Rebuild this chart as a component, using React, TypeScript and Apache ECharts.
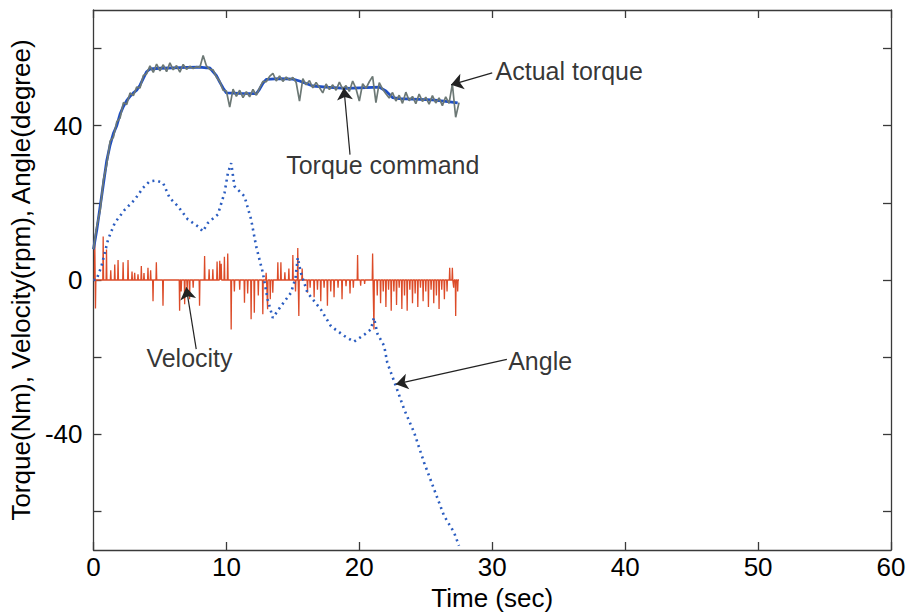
import React, { useEffect, useRef } from 'react';
import * as echarts from 'echarts';

// Torque command (Nm): [time s, value]
const torqueCommand: [number, number][] = [
  [0, 8], [0.25, 13], [0.5, 19], [0.75, 25], [1.0, 31], [1.25, 35], [1.5, 38], [1.75, 40],
  [2.0, 43], [2.25, 45], [2.5, 46.5], [2.75, 47.6], [3.0, 48.5], [3.25, 49.2], [3.5, 50.5],
  [3.75, 52.3], [4.0, 54], [4.25, 54.7], [5, 54.9], [6, 55], [7, 55.1], [8, 55.2], [8.5, 55],
  [8.75, 55], [9.0, 54], [9.25, 53], [9.5, 51.3], [9.75, 49.8], [10.0, 48.5], [11, 48.4],
  [12.25, 48.3], [12.5, 49.5], [12.75, 51], [13.0, 52], [14, 52.2], [15, 52.1], [15.5, 51.6],
  [16.5, 50.3], [17.5, 50], [19, 49.7], [21.5, 50], [22, 49], [22.5, 47.3], [23, 47],
  [25.5, 46.7], [26.5, 46.3], [27.4, 45.9]
];

// Actual torque (Nm), sampled every 0.25 s from t = 0
const actualTorqueStep = 0.25;
const actualTorque: number[] = [
  8, 14, 18, 26, 30, 36, 37, 41, 42, 46, 45.5, 48.5, 47.8, 50, 49.8, 53, 53.5, 55.5, 53.8, 56,
  54.2, 55.8, 54, 56.3, 54.5, 55.6, 53.9, 55.9, 54.6, 55.4, 54.8, 55.3, 55.1, 58.2, 55.5, 54.6,
  54.5, 52.6, 51.5, 49.2, 49, 44.8, 49.5, 47.6, 49.2, 47.3, 48.8, 47.5, 49.4, 47.9, 49.8, 51.5,
  51.4, 52.8, 53.6, 51.6, 52.9, 51.5, 52.6, 51.8, 52.5, 51.2, 46.4, 52.2, 50.6, 51.7, 49.8, 51.2,
  49.9, 48.5, 50.8, 49.4, 50.6, 49.2, 51.3, 49.5, 50.4, 48.9, 51.6, 49.6, 46.4, 50.9, 49.7, 51.4,
  52.8, 46, 51.2, 49.5, 48.3, 47.2, 48.6, 46.4, 47.9, 45.8, 48.7, 46.5, 47.6, 45.7, 48.2, 46.3,
  47.4, 45.6, 47.8, 45.9, 47.2, 45.2, 47.5, 45.8, 50.8, 42.2, 46
];

// Angle (degree): [time s, value]
const angle: [number, number][] = [
  [0, 0], [0.23, 0.1], [0.6, 3.6], [1.1, 10.5], [1.6, 14.8], [2.35, 18.2], [3.1, 20.8],
  [3.73, 23.9], [4.23, 25.6], [4.7, 25.8], [5.23, 25.2], [5.73, 21.3], [6.36, 19.1], [7.1, 15.7],
  [7.86, 13.9], [8.23, 12.6], [8.61, 14.8], [9.36, 17], [9.86, 22.6], [10.11, 27.7],
  [10.36, 30.3], [10.61, 24.3], [11.36, 21.7], [11.86, 15.7], [12.24, 8.7], [12.74, 1.9],
  [13.1, -5], [13.49, -9.8], [14.1, -6.8], [14.86, -3.3], [15.2, 0.5], [15.37, 5.8], [15.6, 1.9],
  [16.1, -3.3], [17.1, -7.6], [17.87, -12], [18.87, -14.5], [19.6, -16], [20.37, -14.2],
  [20.87, -12.8], [21.1, -9.8], [21.37, -14], [21.87, -17.1], [22.1, -21.4], [22.75, -27.5],
  [23.37, -33.5], [24.12, -39.5], [24.87, -47.3], [25.62, -54.2], [26.37, -61.1],
  [27.12, -65.4], [27.5, -68.9]
];

// Velocity (rpm): spikes [time s, peak value] on a zero baseline from 0 to 27.5 s
const velocityEnd = 27.5;
const velocitySpikes: [number, number][] = [
  [0.1, 9.6], [0.15, -7.4], [0.73, 11.3], [0.98, 7.9], [1.3, 2.5], [1.6, 4.0], [1.85, 5.2],
  [2.23, 4.6], [2.6, 5.2], [2.9, 2.2], [3.1, 1.9], [3.35, 1.5], [3.6, 3.6], [3.8, 1.8],
  [4.1, 3.2], [4.3, 2.5], [4.48, -5.5], [4.73, 4.6], [5.23, -6.7], [6.48, -8.0], [6.6, -3],
  [6.86, -6.3], [7.05, -2.5], [7.23, -5.0], [7.5, -2], [7.98, -6.7], [8.36, 6.2], [8.7, 2.8],
  [8.98, 2.8], [9.3, 4.8], [9.5, 5.0], [9.61, 4.2], [9.85, 6], [10.1, 6.9], [10.36, -12.8],
  [10.6, -3], [11.0, -2.5], [11.36, -5.9], [11.6, -3.5], [11.86, -10.2], [12.1, -8.5],
  [12.4, -4], [12.74, -8.9], [12.99, 1.9], [13.1, -7.6], [13.3, -5], [13.49, -3.3],
  [13.87, 4.6], [14.1, 4.6], [14.4, 2], [14.7, 3], [15.0, 6.5], [15.2, -3], [15.37, 8.3],
  [15.45, -9.3], [15.7, 3], [16.1, -3.3], [16.3, -2], [16.6, -4.5], [16.85, -2.5], [17.1, -5.5],
  [17.35, -2], [17.6, -6.7], [17.85, -3], [18.1, -4.5], [18.4, -2], [18.7, -5], [19.0, -1.6],
  [19.3, -3.5], [19.55, -2], [19.87, 6.5], [20.1, -1.5], [20.4, -1], [21.0, 6.9], [21.1, -12.8],
  [21.35, -4], [21.6, -6], [21.8, -3], [22.0, -7], [22.2, -2.5], [22.4, -8], [22.6, -3],
  [22.8, -6.5], [23.0, -2], [23.2, -7.5], [23.4, -4], [23.6, -8], [23.8, -2.5], [24.0, -6],
  [24.2, -3.5], [24.4, -7], [24.6, -2], [24.8, -5.5], [25.0, -3], [25.2, -7], [25.4, -2.5],
  [25.6, -6], [25.8, -4], [26.0, -7.5], [26.2, -2.5], [26.4, -5], [26.6, -3], [26.8, 3.2],
  [27.0, 3.2], [27.1, -2], [27.25, -9.3], [27.4, -3]
];

const xTickValues = [0, 10, 20, 30, 40, 50, 60];
const yTickValues = [-60, -40, -20, 0, 20, 40, 60];
const yLabelValues = [-40, 0, 40];

// Annotation anchors in data units
const annotations = [
  { text: 'Actual torque', at: [30.25, 54.2], from: [30.0, 53.7], tip: [26.9, 50.6] },
  { text: 'Torque command', at: [14.5, 29.9], from: [19.3, 32.5], tip: [18.84, 49.8] },
  { text: 'Velocity', at: [3.98, -20.1], from: [7.73, -17.9], tip: [6.98, -1.9] },
  { text: 'Angle', at: [31.2, -21.1], from: [31.1, -20.6], tip: [22.75, -27.0] }
];

const FONT = "'Liberation Sans', Arial, Helvetica, sans-serif";

export default function App() {
  const ref = useRef<HTMLDivElement>(null);
  useEffect(() => {
    if (!ref.current) return;
    const chart = echarts.init(ref.current, null, { renderer: 'svg' });

    const actualData = actualTorque.map((v, i) => [i * actualTorqueStep, v]);
    const velData: number[][] = [[0, 0]];
    velocitySpikes.forEach(([t, v]) => {
      velData.push([t - 0.03, 0], [t, v], [t + 0.03, 0]);
    });
    velData.push([velocityEnd, 0]);

    const axisLine = { show: true, onZero: false, lineStyle: { color: '#3a3a3a', width: 1.3 } };
    const tick = { show: true, inside: true, length: 8, lineStyle: { color: '#3a3a3a', width: 1.3 } };
    const label = { color: '#000', fontFamily: FONT, fontSize: 26 };

    chart.setOption({
      animation: false,
      backgroundColor: '#fff',
      grid: { left: 92, right: 18, top: 10, bottom: 65, containLabel: false },
      xAxis: [
        {
          type: 'value', min: 0, max: 60, interval: 10, position: 'bottom',
          name: 'Time (sec)', nameLocation: 'middle', nameGap: 35,
          nameTextStyle: { ...label },
          axisLine, axisTick: { ...tick, customValues: xTickValues },
          axisLabel: { ...label, margin: 4, customValues: xTickValues },
          splitLine: { show: false }
        },
        {
          type: 'value', min: 0, max: 60, interval: 10, position: 'top',
          axisLine, axisTick: { ...tick, customValues: xTickValues },
          axisLabel: { show: false }, splitLine: { show: false }
        }
      ],
      yAxis: [
        {
          type: 'value', min: -70, max: 70, position: 'left',
          name: 'Torque(Nm), Velocity(rpm), Angle(degree)', nameLocation: 'middle', nameGap: 52,
          nameRotate: 90, nameTextStyle: { ...label },
          axisLine, axisTick: { ...tick, customValues: yTickValues },
          axisLabel: { ...label, margin: 11, customValues: yLabelValues },
          splitLine: { show: false }
        },
        {
          type: 'value', min: -70, max: 70, position: 'right',
          axisLine, axisTick: { ...tick, customValues: yTickValues },
          axisLabel: { show: false }, splitLine: { show: false }
        }
      ],
      series: [
        {
          name: 'Velocity', type: 'line', data: velData, showSymbol: false, symbol: 'none',
          lineStyle: { color: '#dc4b28', width: 1.3 }, z: 1, silent: true
        },
        {
          name: 'Angle', type: 'line', data: angle, showSymbol: false, symbol: 'none', smooth: false,
          lineStyle: { color: '#2a5cc0', width: 2.6, type: [2, 4], cap: 'butt' }, z: 2, silent: true
        },
        {
          name: 'Torque command', type: 'line', data: torqueCommand, showSymbol: false, symbol: 'none',
          lineStyle: { color: '#1f4fc4', width: 2.8 }, z: 3, silent: true
        },
        {
          name: 'Actual torque', type: 'line', data: actualData, showSymbol: false, symbol: 'none',
          lineStyle: { color: '#6c7875', width: 1.7 }, z: 4, silent: true
        },
        {
          name: 'annotations', type: 'scatter', symbolSize: 0, z: 5, silent: true,
          data: annotations.map(a => ({ value: a.at, label: { formatter: a.text } })),
          label: {
            show: true, position: 'right', distance: 0, color: '#000',
            fontFamily: FONT, fontSize: 25
          },
          markLine: {
            silent: true, animation: false,
            symbol: ['none', 'arrow'], symbolSize: 12,
            label: { show: false },
            lineStyle: { color: '#222', width: 1.2, type: 'solid' },
            itemStyle: { color: '#111' },
            data: annotations.map(a => [{ coord: a.from }, { coord: a.tip }])
          }
        }
      ]
    });
    return () => chart.dispose();
  }, []);
  return (
    <div
      ref={ref}
      style={{ position: 'fixed', left: 0, top: 0, width: 909, height: 616, background: '#fff' }}
    />
  );
}
